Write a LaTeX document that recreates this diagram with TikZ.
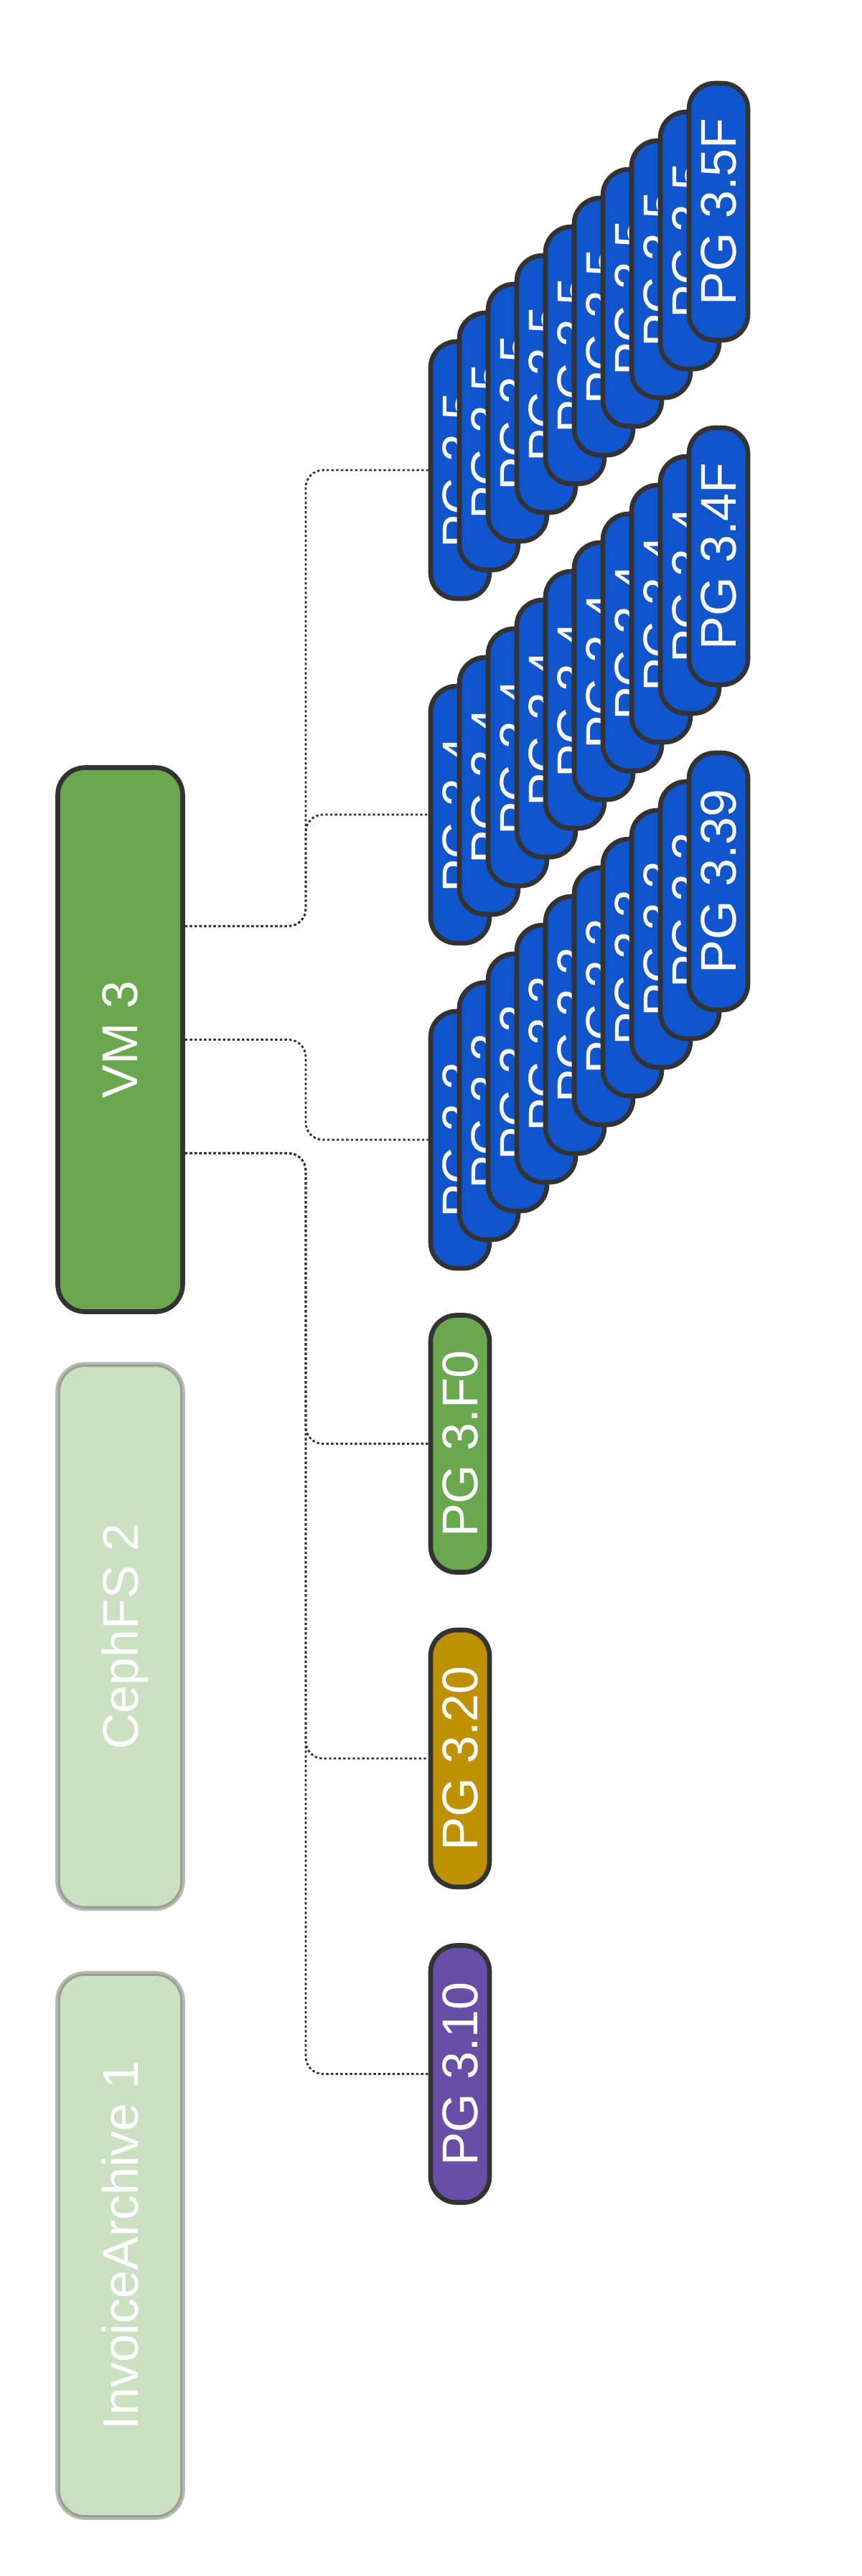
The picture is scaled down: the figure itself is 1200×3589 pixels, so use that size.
\documentclass[tikz,border=0pt]{standalone}
\usepackage{fontspec}
\setmainfont{Liberation Sans}
\usetikzlibrary{calc}

\definecolor{vmgreen}{HTML}{6AA84F}
\definecolor{pgblue}{HTML}{1155CC}
\definecolor{pggold}{HTML}{BF9000}
\definecolor{pgpurple}{HTML}{674EA7}
\definecolor{linegray}{HTML}{333333}

\newcommand{\uptext}[1]{\rotatebox{90}{\raisebox{0pt}[\height][0pt]{#1}}}

\tikzset{
  pool/.style = {draw = linegray, line width = 3.3pt, rounded corners = 19pt,
    minimum width = 87pt, minimum height = 379pt, inner sep = 0pt,
    text = white, font = \fontsize{35}{42}\selectfont},
  faded/.style = {pool, fill = vmgreen, fill opacity = 0.35,
    draw opacity = 0.35, text opacity = 1},
  pg/.style = {draw = linegray, fill = #1, line width = 3.3pt, rounded corners = 18pt,
    minimum width = 41pt, minimum height = 179pt, inner sep = 0pt,
    text = white, font = \fontsize{35}{42}\selectfont},
  link/.style = {draw = linegray, line width = 1.4pt,
    dash pattern = on 1.7pt off 1.6pt, rounded corners = 12pt}
}

\begin{document}
\begin{tikzpicture}[x = 0.5pt, y = -0.5pt]
            \useasboundingbox (0,0) rectangle (1200,3589);

            \node[pool, fill = vmgreen] (vm3) at (167.5,1448.5) {\uptext{VM 3}};
            \node[faded] (cephfs) at (167.5,2280) {\uptext{CephFS 2}};
            \node[faded] (invoice) at (167.5,3128.5) {\uptext{InvoiceArchive 1}};

            \node[pg = vmgreen] (pgF0) at (641,2011.5) {\uptext{PG 3.F0}};
            \node[pg = pggold] (pg20) at (641,2450) {\uptext{PG 3.20}};
            \node[pg = pgpurple] (pg10) at (641,2889.5) {\uptext{PG 3.10}};

            \foreach \grp/\yy/\last in {5/655/F, 4/1135/F, 3/1588/9} {
                \foreach \i in {0,...,8}
                    \node[pg = pgblue] (g\grp-\i) at (641+40*\i, \yy-40*\i) {\uptext{PG 3.\grp}};
                \node[pg = pgblue] (g\grp-9) at (1001, \yy-360) {\uptext{PG 3.\grp\last}};
            }

            \coordinate (bus) at (426,0);
            \coordinate (vm3a) at ($(vm3.north east)!0.293!(vm3.south east)$);
            \coordinate (vm3b) at (vm3.east);
            \coordinate (vm3c) at ($(vm3.north east)!0.707!(vm3.south east)$);

            \draw[link] (vm3a) -- (vm3a -| bus) |- (g5-0.west);
            \draw[link] (vm3a) -- (vm3a -| bus) |- (g4-0.west);
            \draw[link] (vm3b) -- (vm3b -| bus) |- (g3-0.west);
            \foreach \t in {pgF0, pg20, pg10}
                \draw[link] (vm3c) -- (vm3c -| bus) |- (\t.west);
    \end{tikzpicture}
\end{document}
